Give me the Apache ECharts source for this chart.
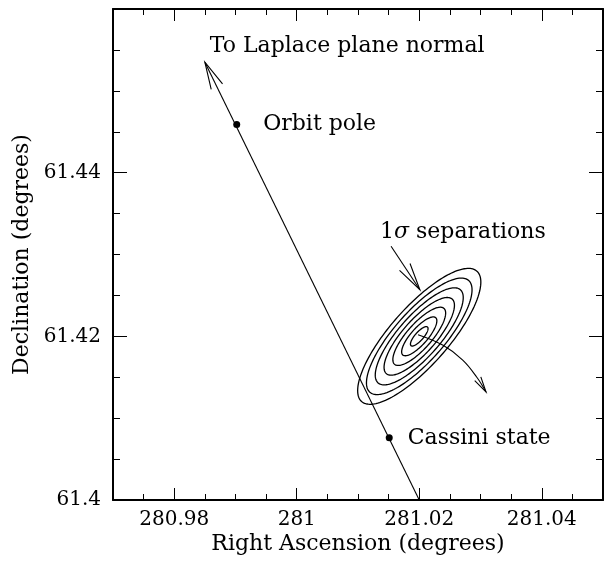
<!DOCTYPE html>
<html>
<head>
<meta charset="utf-8">
<script src="https://cdn.jsdelivr.net/npm/echarts@6/dist/echarts.min.js"></script>
<style>html,body{margin:0;padding:0;background:#fff}#c{width:606px;height:561px}</style>
</head>
<body>
<div id="c"></div>
<script>
// ---- data ----
const xRange = [280.97, 281.05];
const yRange = [61.40, 61.46];
const xMajorTicks = [280.98, 281.00, 281.02, 281.04];
const yMajorStep = 0.02;
const xMinorStep = 0.005;

// line toward the Laplace plane normal (start -> arrow tip)
const laplaceArrow = [[281.020, 61.400], [280.985, 61.4535]];
// arrow from the "1 sigma" label to the outer ellipse
const sigmaArrow = [[281.0154, 61.4310], [281.0201, 61.4257]];
// curved arrow leaving the ellipse centre
const driftArrow = [[281.0198, 61.4202], [281.0239, 61.4189], [281.0271, 61.4171], [281.0294, 61.4150], [281.0309, 61.4132]];

// marked points
const pointCoords = [[280.9902, 61.4459], [281.0151, 61.4076]];
const pointNames = ['Orbit pole', 'Cassini state'];

// error ellipses: centre, 1-sigma conjugate semi-axes (data units), sigma levels
const ellipseCenter = [281.020, 61.420];
const ellipseMajor1 = [0.001344, 0.001138];
const ellipseMinor1 = [-0.000507, 0.000335];
const sigmaLevels = [1, 2, 3, 4, 5, 6, 7];

// free annotations
const noteCoords = [[280.9858, 61.4554], [281.0136, 61.4327]];
const noteTexts = ['To Laplace plane normal', '{n|1}{s|σ}{n| separations}'];

// ---- chart ----
const FONT = 'DejaVu Serif';
const arrows = [laplaceArrow, sigmaArrow, driftArrow];
const arrowHead = [28, 28, 16];
const arrowSmooth = [0, 0, 0.4];

const chart = echarts.init(document.getElementById('c'), null, {renderer: 'canvas'});

const baseX = {
  type: 'value', min: xRange[0], max: xRange[1], gridIndex: 0,
  splitLine: {show: false}
};
const baseY = {
  type: 'value', min: yRange[0], max: yRange[1], interval: yMajorStep,
  splitLine: {show: false}
};
const frameLine = {show: true, lineStyle: {color: '#000', width: 2}};
const txt = {fontFamily: FONT, fontSize: 22, color: '#000', opacity: 1, textBorderWidth: 0};

const option = {
  animation: false,
  backgroundColor: '#fff',
  grid: {left: 113, right: 3, top: 9, bottom: 61, containLabel: false},
  xAxis: [
    Object.assign({}, baseX, {
      position: 'bottom', interval: xMinorStep,
      axisLine: frameLine,
      axisTick: {show: true, inside: true, length: 6, lineStyle: {color: '#000', width: 1}},
      axisLabel: {show: false},
      name: 'Right Ascension (degrees)', nameLocation: 'middle', nameGap: 33,
      nameTextStyle: {fontFamily: FONT, fontSize: 22, color: '#000'}
    }),
    Object.assign({}, baseX, {
      position: 'bottom', interval: xMinorStep,
      axisLine: {show: false},
      axisTick: {show: true, inside: true, length: 12, customValues: xMajorTicks, lineStyle: {color: '#000', width: 1}},
      axisLabel: {show: true, customValues: xMajorTicks, margin: 10, fontFamily: FONT, fontSize: 20, color: '#000'}
    }),
    Object.assign({}, baseX, {
      position: 'top', interval: xMinorStep,
      axisLine: frameLine,
      axisTick: {show: true, inside: true, length: 6, lineStyle: {color: '#000', width: 1}},
      axisLabel: {show: false}
    }),
    Object.assign({}, baseX, {
      position: 'top', interval: xMinorStep,
      axisLine: {show: false},
      axisTick: {show: true, inside: true, length: 12, customValues: xMajorTicks, lineStyle: {color: '#000', width: 1}},
      axisLabel: {show: false}
    })
  ],
  yAxis: [
    Object.assign({}, baseY, {
      position: 'left',
      axisLine: frameLine,
      axisTick: {show: true, inside: true, length: 14, lineStyle: {color: '#000', width: 1}},
      minorTick: {show: true, splitNumber: 4, length: 7, lineStyle: {color: '#000', width: 1}},
      axisLabel: {show: true, showMaxLabel: false, margin: 12, fontFamily: FONT, fontSize: 20, color: '#000'},
      name: 'Declination (degrees)', nameLocation: 'middle', nameGap: 76,
      nameTextStyle: {fontFamily: FONT, fontSize: 22, color: '#000'}
    }),
    Object.assign({}, baseY, {
      position: 'right',
      axisLine: frameLine,
      axisTick: {show: true, inside: true, length: 14, lineStyle: {color: '#000', width: 1}},
      minorTick: {show: true, splitNumber: 4, length: 7, lineStyle: {color: '#000', width: 1}},
      axisLabel: {show: false}
    })
  ],
  series: [
    {
      name: 'ellipses', type: 'custom', coordinateSystem: 'cartesian2d',
      xAxisIndex: 0, yAxisIndex: 0, silent: true,
      data: sigmaLevels.map(k => [ellipseCenter[0], ellipseCenter[1], k]),
      renderItem: function (params, api) {
        const k = api.value(2);
        const pts = [];
        const N = 160;
        for (let j = 0; j <= N; j++) {
          const t = j / N * 2 * Math.PI;
          const c = Math.cos(t), s = Math.sin(t);
          pts.push(api.coord([
            ellipseCenter[0] + k * (ellipseMajor1[0] * c + ellipseMinor1[0] * s),
            ellipseCenter[1] + k * (ellipseMajor1[1] * c + ellipseMinor1[1] * s)
          ]));
        }
        return {type: 'polyline', shape: {points: pts}, style: {stroke: '#000', lineWidth: 1.3, fill: null}};
      }
    },
    {
      name: 'arrows', type: 'custom', coordinateSystem: 'cartesian2d',
      xAxisIndex: 0, yAxisIndex: 0, silent: true,
      data: arrows.map((a, i) => [a[a.length - 1][0], a[a.length - 1][1], i]),
      renderItem: function (params, api) {
        const i = api.value(2);
        const pts = arrows[i].map(p => api.coord(p));
        const tip = pts[pts.length - 1];
        const prev = pts[pts.length - 2];
        let dx = prev[0] - tip[0], dy = prev[1] - tip[1];
        const len = Math.sqrt(dx * dx + dy * dy);
        dx /= len; dy /= len;
        const L = arrowHead[i], a = 13 * Math.PI / 180;
        const ca = Math.cos(a), sa = Math.sin(a);
        const arm1 = [tip[0] + L * (dx * ca - dy * sa), tip[1] + L * (dx * sa + dy * ca)];
        const arm2 = [tip[0] + L * (dx * ca + dy * sa), tip[1] + L * (-dx * sa + dy * ca)];
        return {
          type: 'group',
          children: [
            {type: 'polyline', shape: {points: pts, smooth: arrowSmooth[i]}, style: {stroke: '#000', lineWidth: 1.1, fill: null}},
            {type: 'polyline', shape: {points: [arm1, tip, arm2]}, style: {stroke: '#000', lineWidth: 1.1, fill: null}}
          ]
        };
      }
    },
    {
      name: 'points', type: 'scatter', xAxisIndex: 0, yAxisIndex: 0, silent: true,
      symbol: 'circle', symbolSize: 7,
      itemStyle: {color: '#000', opacity: 1},
      data: pointCoords.map((p, i) => ({
        value: p, name: pointNames[i],
        label: Object.assign({show: true, position: 'right', distance: i === 0 ? 23 : 15, formatter: pointNames[i]}, txt)
      }))
    },
    {
      name: 'notes', type: 'scatter', xAxisIndex: 0, yAxisIndex: 0, silent: true,
      symbolSize: 0,
      itemStyle: {color: '#000', opacity: 1},
      data: noteCoords.map((p, i) => ({value: p})),
      label: Object.assign({
        show: true, position: 'right', distance: 0,
        formatter: function (p) { return noteTexts[p.dataIndex]; },
        rich: {
          n: {fontFamily: FONT, fontSize: 22, color: '#000'},
          s: {fontFamily: FONT, fontSize: 22, color: '#000', fontStyle: 'italic'}
        }
      }, txt)
    }
  ]
};
chart.setOption(option);
</script>
</body>
</html>
